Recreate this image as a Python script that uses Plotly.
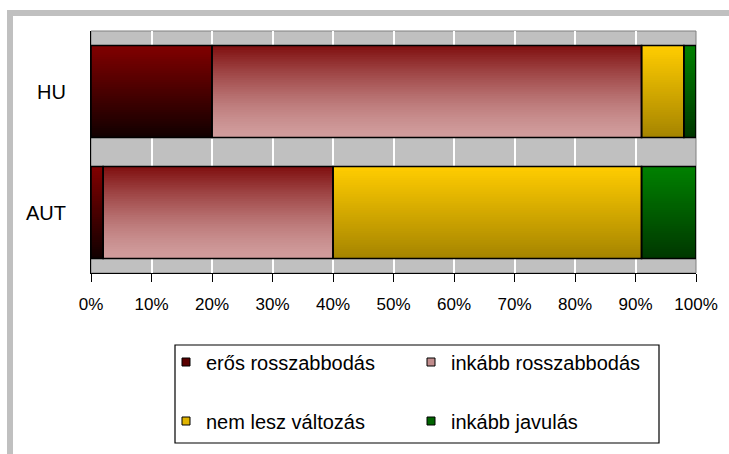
import plotly.graph_objects as go

# ---- data ----
categories = ["HU", "AUT"]
series_names = ["erős rosszabbodás", "inkább rosszabbodás", "nem lesz változás", "inkább javulás"]
hu_values = [20, 71, 7, 2]
aut_values = [2, 38, 51, 9]
x_tick_values = [0, 10, 20, 30, 40, 50, 60, 70, 80, 90, 100]
x_tick_labels = ["0%", "10%", "20%", "30%", "40%", "50%", "60%", "70%", "80%", "90%", "100%"]

# ---- styles ----
top_colors = [(128, 0, 0), (128, 16, 16), (255, 204, 0), (0, 128, 0)]
bottom_colors = [(18, 0, 0), (208, 156, 156), (166, 133, 0), (0, 56, 0)]
ease = [1.0, 1.4, 1.0, 1.0]
legend_colors = ["#5a0000", "#c08c8c", "#e0b400", "#006400"]
FONT = "Liberation Sans, Arial, sans-serif"
BAR_W = 0.76
N_BANDS = 40

W, H = 729, 454
ML, MR, MT, MB = 91, 33, 31, 181
PW, PH = W - ML - MR, H - MT - MB


def px_x(p):
    return (p - ML) / PW


def px_y(p):
    return (H - MB - p) / PH


def band_color(s, t):
    a, b = top_colors[s], bottom_colors[s]
    tt = 1 - (1 - t) ** ease[s]
    return "rgb(%d,%d,%d)" % tuple(round(a[i] + (b[i] - a[i]) * tt) for i in range(3))


fig = go.Figure()
values_by_cat = [hu_values, aut_values]
band_w = BAR_W / N_BANDS

# gradient-filled segments
for s, name in enumerate(series_names):
    ys, xs, bases, offs, wids, cols = [], [], [], [], [], []
    for c, cat in enumerate(categories):
        vals = values_by_cat[c]
        base = sum(vals[:s])
        for k in range(N_BANDS):
            ys.append(cat)
            xs.append(vals[s])
            bases.append(base)
            offs.append(-BAR_W / 2 + k * band_w)
            wids.append(band_w * 1.8 if k < N_BANDS - 1 else band_w)
            cols.append(band_color(s, k / (N_BANDS - 1)))
    fig.add_trace(go.Bar(
        orientation="h", y=ys, x=xs, base=bases, offset=offs, width=wids,
        marker=dict(color=cols, line=dict(width=0)),
        showlegend=False, hoverinfo="skip"))

# outlines
for s, name in enumerate(series_names):
    vals = [values_by_cat[c][s] for c in range(len(categories))]
    bases = [sum(values_by_cat[c][:s]) for c in range(len(categories))]
    fig.add_trace(go.Bar(
        orientation="h", y=categories, x=vals, base=bases,
        width=BAR_W, offset=-BAR_W / 2,
        marker=dict(color="rgba(0,0,0,0)", line=dict(color="black", width=1.6)),
        showlegend=False, name=name))

# legend entries
for s, name in enumerate(series_names):
    fig.add_trace(go.Scatter(
        x=[None], y=[None], mode="markers", name=name,
        marker=dict(symbol="square", size=8, color=legend_colors[s],
                    line=dict(color="black", width=1)),
        legend="legend" if s < 2 else "legend2"))

leg_common = dict(orientation="h", xanchor="left", yanchor="middle",
                  entrywidth=200, entrywidthmode="pixels",
                  font=dict(family=FONT, size=20, color="black"),
                  bgcolor="rgba(0,0,0,0)", borderwidth=0, itemsizing="trace",
                  traceorder="normal")

fig.update_layout(
    width=W, height=H, autosize=False,
    margin=dict(l=ML, r=MR, t=MT, b=MB, pad=0),
    paper_bgcolor="white", plot_bgcolor="#c0c0c0",
    barmode="overlay",
    font=dict(family=FONT, color="black"),
    xaxis=dict(range=[0, 100], tickvals=x_tick_values, ticktext=x_tick_labels,
               showgrid=True, gridcolor="white", gridwidth=2,
               showline=True, linecolor="black", linewidth=1,
               ticks="outside", ticklen=8, tickcolor="black", tickwidth=1,
               ticklabelstandoff=8,
               tickfont=dict(family=FONT, size=17, color="black"),
               zeroline=False, fixedrange=True),
    yaxis=dict(type="category", categoryorder="array", categoryarray=categories,
               range=[1.5, -0.5], showgrid=False,
               showline=True, linecolor="black", linewidth=1,
               ticks="", ticklabelstandoff=20,
               tickfont=dict(family=FONT, size=20, color="black"),
               zeroline=False, fixedrange=True),
    legend=dict(x=px_x(166), y=px_y(362), **leg_common),
    legend2=dict(x=px_x(166), y=px_y(421), **leg_common),
    shapes=[
        # plot-area frame (top/right grey)
        dict(type="rect", xref="paper", yref="paper", x0=0, x1=1, y0=0, y1=1,
             line=dict(color="#808080", width=1), layer="between"),
        # legend box
        dict(type="rect", xref="paper", yref="paper",
             x0=px_x(175), x1=px_x(659), y0=px_y(345), y1=px_y(443),
             line=dict(color="black", width=1.2)),
        # outer chart frame
        dict(type="rect", xref="paper", yref="paper",
             x0=px_x(10), x1=px_x(780), y0=px_y(13), y1=px_y(500),
             line=dict(color="#c0c0c0", width=6)),
    ],
)

fig.write_html("out.html",
               config={"displayModeBar": False, "staticPlot": True},
               post_script="document.body.style.margin='0';"
                           "document.body.style.overflow='hidden';")
